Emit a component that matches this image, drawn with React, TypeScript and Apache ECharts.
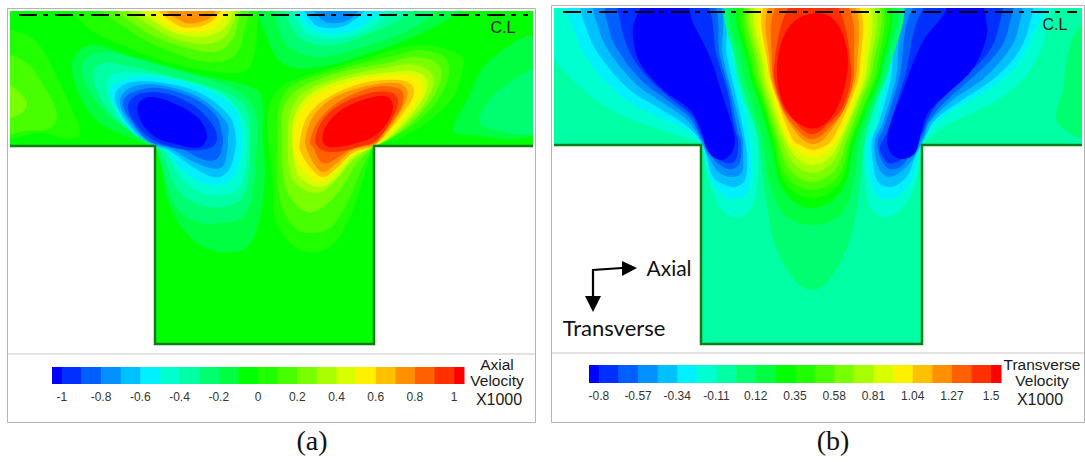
import React, { useEffect, useRef } from "react";
import * as echarts from "echarts";

const bandColors = ["#0000ff","#0030ff","#0060ff","#0090ff","#00c0ff","#00f0ff","#00ffd0","#00ffa4","#00ff70","#00ff40","#00ff00","#20ff00","#48ff00","#78ff00","#a8ff00","#d8ff00","#fff000","#ffc000","#ff9000","#ff6000","#ff3000","#ff0000"];

const ticksA = [-1,-0.8,-0.6,-0.4,-0.2,0,0.2,0.4,0.6,0.8,1];
const edgesA = [-1.05,-1,-0.9,-0.8,-0.7,-0.6,-0.5,-0.4,-0.3,-0.2,-0.1,0,0.1,0.2,0.3,0.4,0.5,0.6,0.7,0.8,0.9,1,1.05];
const ticksB = [-0.8,-0.57,-0.34,-0.11,0.12,0.35,0.58,0.81,1.04,1.27,1.5];
const edgesB = [-0.8575,-0.8,-0.685,-0.57,-0.455,-0.34,-0.225,-0.11,0.005,0.12,0.235,0.35,0.465,0.58,0.695,0.81,0.925,1.04,1.155,1.27,1.385,1.5,1.5575];

type Ring = [number, number[]];

const wallA = [[10,146],[155,146],[155,344],[374,344],[374,146],[533,146]];
const wallB = [[554,145],[701,145],[701,344],[922,344],[922,145],[1082,145]];
const centerlineA = [[19,15],[528,15]];
const centerlineB = [[563,12],[1077,12]];

const leftEdgeA: Ring[] = [
  [11,[10,33,27,35,43,50,57,77,72,110,80,133,70,139,40,133,10,134]],
  [12,[10,57,27,63,42,83,57,113,50,128,25,131,10,132]],
  [13,[10,83,20,93,27,105,18,115,10,117]],
];
const rightEdgeA: Ring[] = [
  [9,[533,40,490,60,467,100,453,130,463,135,533,128]],
  [8,[533,73,503,87,480,115,483,127,533,128]],
];
const topHotA: Ring[] = [
  [11,[72,11,87,27,117,43,167,62,217,72,247,70,255,50,257,33,252,11]],
  [12,[100,11,133,33,167,50,207,62,233,57,243,37,243,11]],
  [13,[115,11,143,30,177,45,213,52,230,43,238,23,237,11]],
  [14,[128,11,157,30,187,42,213,43,230,30,233,11]],
  [15,[138,11,163,27,193,37,217,33,230,20,230,11]],
  [16,[148,11,170,27,197,32,217,25,227,11]],
  [17,[157,11,177,25,197,27,213,20,223,11]],
  [18,[163,11,183,22,200,22,213,15,217,11]],
];
const topColdA: Ring[] = [
  [9,[262,11,268,40,285,65,320,67,370,53,413,37,455,15,465,11]],
  [8,[280,11,280,33,293,50,320,57,363,47,403,33,430,17,440,11]],
  [7,[288,11,295,33,310,43,337,45,377,30,403,17,413,11]],
  [6,[295,11,303,30,320,38,347,37,377,23,393,11]],
  [5,[298,11,307,25,323,33,347,32,370,20,385,11]],
  [4,[305,11,313,23,330,28,350,23,367,11]],
  [3,[312,11,322,20,337,23,353,17,360,11]],
];
const coldA: Ring[] = [
  [9,[155,146,160,160,170,207,193,240,220,252,247,247,260,217,265,173,263,140,263,110,257,90,200,75,133,57,93,45,75,55,72,70,80,97,100,123,143,143]],
  [8,[155,146,160,160,175,205,197,222,220,223,243,217,253,190,257,140,258,133,253,107,233,88,167,68,123,55,97,53,83,63,87,87,110,117,150,143]],
  [7,[155,146,162,153,178,190,200,205,220,207,240,200,248,180,250,140,247,110,227,93,167,75,123,65,103,63,93,73,100,97,120,123,152,143]],
  [6,[155,146,165,150,180,177,202,193,220,195,237,190,245,170,247,140,243,117,220,93,167,77,127,72,108,78,110,100,127,127,153,145]],
  [5,[155,146,165,150,183,170,203,183,220,185,233,178,240,160,242,140,242,133,233,107,200,87,153,77,123,80,110,90,117,110,133,133,154,145]],
  [4,[155,146,168,150,187,163,207,175,220,177,230,168,235,150,236,140,230,117,200,93,157,82,128,83,115,95,123,117,140,137]],
  [3,[173,150,190,160,210,168,222,167,227,153,228,140,227,123,200,98,160,85,132,87,120,100,128,120,147,140]],
  [2,[180,148,197,157,212,161,220,155,223,140,222,133,217,117,197,100,160,88,133,92,123,103,133,123,150,142]],
  [1,[217,140,213,125,193,105,163,93,137,95,128,107,138,127,157,142,187,150,210,148]],
  [0,[207,135,197,117,173,103,150,97,138,105,142,123,157,138,180,145,200,147]],
];
const hotA: Ring[] = [
  [11,[374,146,372,150,360,190,347,223,330,247,307,252,287,240,275,217,272,173,268,140,267,133,270,103,280,88,293,80,370,57,420,45,460,55,463,67,453,97,430,120,403,137]],
  [12,[374,146,372,148,360,173,347,203,330,228,310,233,297,230,282,207,277,173,277,140,278,110,290,87,337,70,397,55,420,50,447,60,445,87,427,113,400,133]],
  [13,[374,146,372,148,357,163,340,190,323,207,307,212,290,197,283,173,282,140,283,110,297,90,337,73,387,63,417,57,440,67,437,90,417,117,393,137]],
  [14,[374,146,353,160,333,183,317,193,300,187,290,173,288,133,290,113,303,93,337,78,383,68,417,65,433,77,427,100,407,123,387,140]],
  [15,[374,146,353,157,337,177,320,187,307,183,297,173,292,133,297,110,313,92,350,78,393,72,417,72,428,83,420,103,400,127,383,142]],
  [16,[374,146,350,157,333,173,320,182,310,177,297,160,293,140,300,113,317,95,357,80,397,75,417,78,422,90,413,107,393,130]],
  [17,[374,146,353,153,337,168,323,177,310,167,300,150,300,140,307,117,327,98,363,83,397,80,412,85,413,97,403,113,387,133]],
  [18,[375,144,353,150,337,163,323,172,315,165,307,150,305,140,313,117,333,98,367,86,397,83,407,90,405,103,390,127]],
  [19,[375,143,353,148,337,158,323,163,313,147,310,143,317,123,337,103,370,88,393,87,403,93,400,110,383,133]],
  [20,[377,140,355,148,335,152,322,150,315,140,325,117,345,102,370,93,390,92,398,100,393,117]],
  [21,[323,133,333,117,350,105,373,97,388,97,393,107,387,123,373,137,357,143,337,147,325,145]],
];
const coverA: Ring[] = [
  [-1,[0,147,154,147,154,360,0,360]],
  [-1,[375,147,545,147,545,360,375,360]],
  [-1,[154,345,375,345,375,360,154,360]],
];

const sideB: Ring[] = [
  [8,[1082,20,1072,40,1063,90,1058,123,1082,134]],
];
const coldLeftB: Ring[] = [
  [6,[554,8,554,43,570,77,600,103,633,120,667,132,697,142,701,145,707,173,717,203,733,217,750,210,757,183,758,140,753,120,743,100,735,67,725,8]],
  [5,[570,8,575,33,593,67,620,95,650,113,683,128,700,142,704,150,710,177,723,195,735,199,747,193,751,173,750,140,740,93,732,57,720,8]],
  [4,[585,8,588,33,605,63,630,90,657,107,683,123,700,140,707,157,713,177,725,185,735,187,745,180,747,157,745,140,737,100,727,57,717,8]],
  [3,[598,8,600,33,615,60,637,85,663,103,687,120,701,140,710,160,720,173,733,177,742,172,743,153,743,140,733,97,723,57,713,8]],
  [2,[610,8,610,33,623,58,643,82,670,102,690,118,701,138,713,158,723,167,733,169,740,162,741,140,738,133,730,93,720,57,707,8]],
  [1,[620,8,620,20,630,53,650,80,673,100,693,117,701,135,713,155,723,162,732,163,737,157,738,140,735,130,727,90,717,57,700,8]],
  [0,[650,8,635,20,633,37,640,63,663,90,690,110,702,133,707,150,717,159,727,158,734,147,734,133,723,97,710,57,693,23,683,8]],
];
const coldRightB: Ring[] = [
  [6,[1048,8,1045,37,1028,73,1002,97,972,113,942,128,923,143,922,145,917,177,907,203,888,217,872,210,865,183,863,140,865,130,882,67,898,8]],
  [5,[1042,8,1032,37,1015,67,988,90,958,107,932,127,923,142,918,157,912,180,900,195,888,199,877,195,870,177,868,140,875,130,885,83,905,8]],
  [4,[1028,8,1028,30,1015,57,992,80,962,100,935,120,924,140,915,157,908,175,897,185,888,187,878,182,873,163,872,140,878,125,890,83,910,8]],
  [3,[1017,8,1018,30,1007,53,982,80,955,98,930,122,924,137,912,160,903,170,890,177,882,173,876,160,875,140,882,125,895,83,915,8]],
  [2,[1008,8,1008,30,997,53,972,78,947,100,928,122,923,135,908,158,900,167,890,169,883,163,878,150,878,140,883,130,898,83,922,8]],
  [1,[998,8,998,30,988,53,963,78,940,100,927,120,922,133,903,157,897,162,888,163,883,157,880,147,887,133,903,83,932,8]],
  [0,[978,8,987,27,985,43,972,70,948,93,928,113,921,133,915,153,902,159,890,152,888,133,902,93,922,43,942,17,955,8]],
];
const towerB: Ring[] = [
  [8,[733,8,737,67,748,105,758,140,767,207,780,257,812,290,843,257,857,207,865,140,875,105,890,67,895,8]],
  [9,[738,8,742,67,753,105,763,140,770,185,785,215,812,225,840,215,853,185,860,140,872,105,885,67,890,8]],
  [10,[745,8,748,67,760,105,770,140,783,190,812,208,842,190,855,140,868,105,882,67,883,8]],
  [11,[748,8,751,67,763,105,773,140,785,183,812,198,840,183,852,140,866,105,880,67,880,8]],
  [12,[752,8,753,67,765,105,775,140,787,177,812,190,838,177,850,140,864,105,877,67,875,8]],
  [13,[755,8,757,67,767,105,778,140,790,170,812,182,835,170,847,140,860,105,873,67,872,8]],
  [14,[758,8,760,67,770,105,782,140,793,163,812,173,832,163,843,140,857,105,870,67,867,8]],
  [15,[762,8,763,67,773,105,785,140,796,157,812,165,830,157,840,140,855,105,867,67,862,8]],
  [16,[766,8,767,67,776,105,788,140,798,150,812,157,828,150,837,140,852,105,863,67,857,8]],
  [17,[770,8,768,67,779,105,793,140,802,146,812,150,825,146,832,140,849,105,860,67,852,8]],
  [18,[775,8,770,67,780,105,798,135,812,144,825,138,846,105,857,67,848,8]],
  [19,[782,8,772,67,781,105,793,125,812,139,832,125,846,105,854,67,842,8]],
  [20,[795,8,774,67,782,105,795,122,812,134,830,122,844,105,851,67,832,8]],
  [21,[817,13,796,20,783,38,777,67,780,95,790,115,805,127,820,127,835,112,845,85,848,60,843,35,832,18]],
];
const coverB: Ring[] = [
  [-1,[540,146,700,146,700,360,540,360]],
  [-1,[923,146,1095,146,1095,360,923,360]],
  [-1,[700,345,923,345,923,360,700,360]],
];

const panelA = { box: [10, 11, 533, 346], base: 10, rings: [...leftEdgeA, ...rightEdgeA, ...topHotA, ...topColdA, ...coldA, ...hotA, ...coverA] };
const panelB = { box: [554, 8, 1082, 346], base: 7, rings: [...sideB, ...coldLeftB, ...coldRightB, ...towerB, ...coverB] };

const frame = "#b4b4b4";
const wallColor = "#0c7d16";
const sans = "Liberation Sans";

// closed smooth outline through the projected points (chord-scaled cubic segments)
function smoothPath(p: number[][]) {
  const n = p.length;
  const tan = p.map((_, i) => {
    const a = p[(i - 1 + n) % n];
    const b = p[(i + 1) % n];
    const dx = b[0] - a[0];
    const dy = b[1] - a[1];
    const l = Math.hypot(dx, dy) || 1;
    return [dx / l, dy / l];
  });
  let d = `M${p[0][0]} ${p[0][1]}`;
  for (let i = 0; i < n; i++) {
    const j = (i + 1) % n;
    const len = Math.hypot(p[j][0] - p[i][0], p[j][1] - p[i][1]) / 3;
    d += `C${p[i][0] + tan[i][0] * len} ${p[i][1] + tan[i][1] * len} ${p[j][0] - tan[j][0] * len} ${p[j][1] - tan[j][1] * len} ${p[j][0]} ${p[j][1]}`;
  }
  return d + "Z";
}

function panelSeries(p: typeof panelA, gridIndex: number) {
  const [x0, y0, x1, y1] = p.box;
  const baseRing: Ring = [p.base, [x0, y0, x1, y0, x1, y1, x0, y1]];
  const rings = [baseRing, ...p.rings];
  const push = (x: number, y: number) => [
    x <= x0 ? x - 10 : x >= x1 ? x + 10 : x,
    y <= y0 ? y - 10 : y,
  ];
  return {
    type: "custom",
    xAxisIndex: gridIndex,
    yAxisIndex: gridIndex,
    clip: true,
    silent: true,
    data: rings.map((_, i) => [i]),
    encode: { x: -1, y: -1 },
    renderItem: (params: any, api: any) => {
      const [band, flat] = rings[params.dataIndex];
      const pts: number[][] = [];
      for (let i = 0; i < flat.length; i += 2) {
        const [x, y] = push(flat[i], flat[i + 1]);
        pts.push(api.coord([x, y]));
      }
      if (band < 0 || params.dataIndex === 0) {
        return {
          type: "polygon",
          shape: { points: pts },
          style: { fill: band < 0 ? "#ffffff" : bandColors[band], stroke: "none" },
        };
      }
      return {
        type: "path",
        shape: { pathData: smoothPath(pts) },
        style: { fill: bandColors[band], stroke: "none" },
      };
    },
  };
}

function barSeries(edges: number[], gridIndex: number) {
  return {
    type: "custom",
    xAxisIndex: gridIndex,
    yAxisIndex: gridIndex,
    silent: true,
    data: bandColors.map((_, i) => [i]),
    encode: { x: -1, y: -1 },
    z: 1,
    renderItem: (params: any, api: any) => {
      const i = params.dataIndex;
      const a = api.coord([edges[i], 0]);
      const b = api.coord([edges[i + 1], 1]);
      return {
        type: "rect",
        shape: { x: a[0], y: b[1], width: b[0] - a[0] + 0.5, height: a[1] - b[1] },
        style: { fill: bandColors[i], stroke: "none" },
      };
    },
  };
}

const lineSeries = (data: number[][], gridIndex: number, lineStyle: any) => ({
  type: "line",
  xAxisIndex: gridIndex,
  yAxisIndex: gridIndex,
  data,
  showSymbol: false,
  symbol: "none",
  silent: true,
  clip: false,
  z: 10,
  lineStyle,
});

const txt = (x: number, y: number, text: string, fontSize: number, fontFamily = sans, fill = "#1a1a1a", align = "center") => ({
  type: "text",
  x,
  y,
  z: 100,
  silent: true,
  style: { text, fontSize, fontFamily, fill, align, verticalAlign: "middle" },
});

const box = (x: number, y: number, width: number, height: number) => ({
  type: "rect",
  z: 90,
  silent: true,
  shape: { x, y, width, height },
  style: { fill: "none", stroke: frame, lineWidth: 1 },
});
const rule = (x1: number, y: number, x2: number) => ({
  type: "line",
  z: 90,
  silent: true,
  shape: { x1, y1: y, x2, y2: y },
  style: { stroke: "#d8d8d8", lineWidth: 1.5 },
});

export default function App() {
  const ref = useRef<HTMLDivElement>(null);
  useEffect(() => {
    const chart = echarts.init(ref.current!, undefined, { renderer: "svg" });
    const hidden = (min: number, max: number, inverse = false) => ({
      type: "value", min, max, inverse, show: false, splitLine: { show: false },
    });
    const barX = (gridIndex: number, min: number, max: number, ticks: number[]) => ({
      type: "value",
      gridIndex,
      min,
      max,
      splitLine: { show: false },
      axisLine: { show: false },
      axisTick: { show: true, inside: true, length: 17, customValues: ticks, lineStyle: { color: "rgba(0,0,0,0.45)", width: 1 } },
      axisLabel: { customValues: ticks, fontSize: 12, fontFamily: sans, color: "#333", margin: 7, hideOverlap: false },
    });
    chart.setOption({
      animation: false,
      backgroundColor: "#ffffff",
      grid: [
        { left: 10, top: 11, width: 523, height: 335 },
        { left: 554, top: 8, width: 528, height: 338 },
        { left: 52, top: 367, width: 412, height: 17 },
        { left: 589, top: 365, width: 412, height: 18 },
      ],
      xAxis: [
        { ...hidden(10, 533), gridIndex: 0 },
        { ...hidden(554, 1082), gridIndex: 1 },
        barX(2, -1.05, 1.05, ticksA),
        barX(3, -0.8575, 1.5575, ticksB),
      ],
      yAxis: [
        { ...hidden(11, 346, true), gridIndex: 0 },
        { ...hidden(8, 346, true), gridIndex: 1 },
        { ...hidden(0, 1), gridIndex: 2 },
        { ...hidden(0, 1), gridIndex: 3 },
      ],
      series: [
        panelSeries(panelA, 0),
        panelSeries(panelB, 1),
        barSeries(edgesA, 2),
        barSeries(edgesB, 3),
        lineSeries(wallA, 0, { color: wallColor, width: 2.5, join: "miter" }),
        lineSeries(wallB, 1, { color: wallColor, width: 2.5, join: "miter" }),
        lineSeries(centerlineA, 0, { color: "#000", width: 2, type: [18, 6, 5, 7] }),
        lineSeries(centerlineB, 1, { color: "#000", width: 2, type: [18, 6, 5, 7] }),
      ],
      graphic: [
        box(7.5, 8.5, 528, 414),
        box(551.5, 5.5, 533, 417),
        rule(8, 354, 535),
        rule(552, 353, 1084),
        txt(503, 27, "C.L", 16),
        txt(1055, 24, "C.L", 16),
        txt(497, 364, "Axial", 15.5),
        txt(497, 380, "Velocity", 15.5),
        txt(499, 399, "X1000", 16),
        txt(1042, 364, "Transverse", 15.5),
        txt(1042, 380, "Velocity", 15.5),
        txt(1040, 399, "X1000", 16),
        txt(312, 440, "(a)", 28, "Liberation Serif", "#111"),
        txt(833, 440, "(b)", 28, "Liberation Serif", "#111"),
        txt(669, 267, "Axial", 21, "Lato", "#111"),
        txt(614, 327, "Transverse", 22, "Lato", "#111"),
        { type: "polyline", z: 100, silent: true, shape: { points: [[622, 268], [593, 270], [593, 298]] }, style: { stroke: "#000", lineWidth: 2.2, fill: "none" } },
        { type: "polygon", z: 100, silent: true, shape: { points: [[622, 261], [637, 268], [622, 276]] }, style: { fill: "#000" } },
        { type: "polygon", z: 100, silent: true, shape: { points: [[585, 296], [601, 296], [593, 312]] }, style: { fill: "#000" } },
      ],
    });
    return () => chart.dispose();
  }, []);
  return <div ref={ref} style={{ position: "fixed", left: 0, top: 0, width: 1085, height: 462 }} />;
}
